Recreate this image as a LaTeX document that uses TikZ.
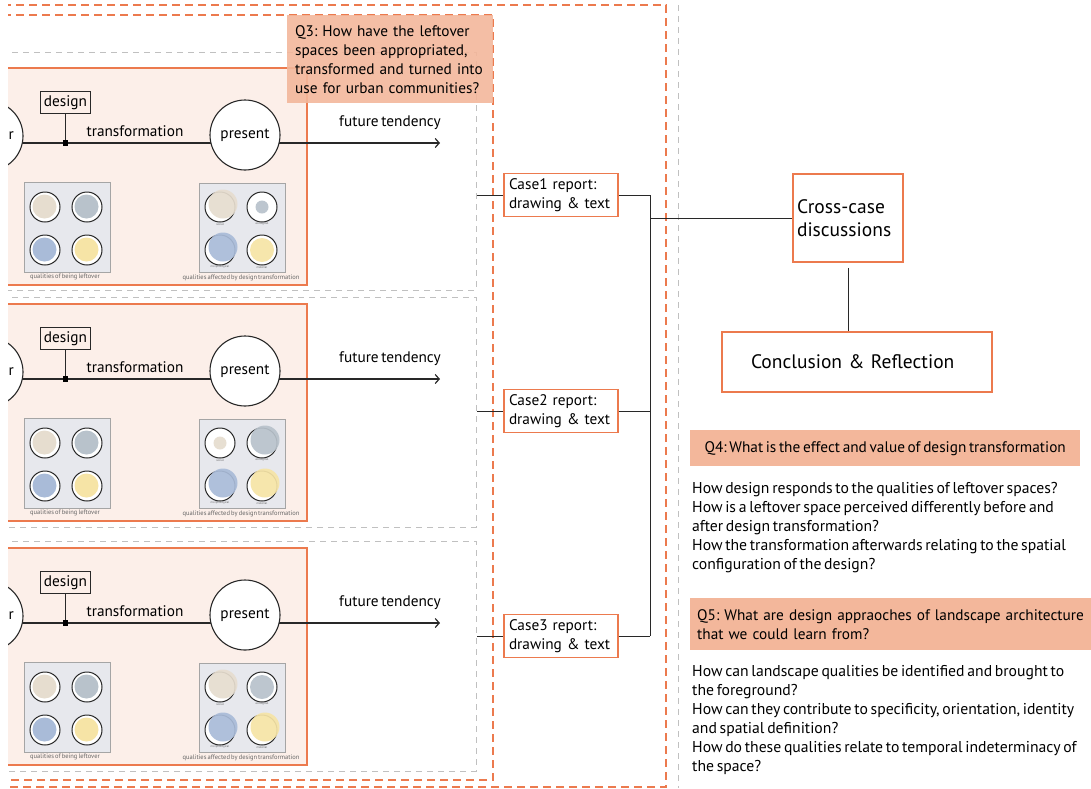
\documentclass[tikz,border=0pt]{standalone}
\usepackage{fontspec}
\setmainfont{PT Sans}[WordSpace=0.65]
\usetikzlibrary{positioning, calc, arrows.meta}

\definecolor{caseorange}{RGB}{236,122,78}
\definecolor{qsalmon}{RGB}{243,183,155}
\definecolor{panelpink}{RGB}{252,239,233}
\definecolor{dashgray}{RGB}{192,192,192}
\definecolor{boxgray}{RGB}{231,232,237}
\definecolor{boxline}{RGB}{165,165,165}
\definecolor{qbeige}{RGB}{230,221,207}
\definecolor{qslate}{RGB}{184,194,203}
\definecolor{qblue}{RGB}{169,187,216}
\definecolor{qyellow}{RGB}{246,228,166}
\definecolor{lineblack}{RGB}{40,40,40}

\newcommand{\bodyfont}{\fontsize{15.3}{19}\selectfont}
\newcommand{\questfont}{\fontsize{15.7}{19}\selectfont}
\newcommand{\bigfont}{\fontsize{19.5}{23}\selectfont}
\frenchspacing

\begin{document}
\begin{tikzpicture}[x=1pt, y=-1pt,
  orangedash/.style={draw=caseorange, line width=1.2pt, dash pattern=on 8pt off 5pt},
  graydash/.style={draw=dashgray, line width=1pt, dash pattern=on 6pt off 5pt},
  panel/.style={draw=caseorange, line width=1.4pt, fill=panelpink},
  qualbox/.style={draw=boxline, line width=0.8pt, fill=boxgray},
  timecircle/.style={circle, draw=lineblack, line width=1.1pt, fill=white, minimum size=70pt, inner sep=0pt, font=\bodyfont},
  designbox/.style={draw=lineblack, line width=1pt, inner xsep=3pt, inner ysep=4pt, font=\bodyfont},
  reportbox/.style={draw=caseorange, line width=1.3pt, fill=white, align=left, text width=104pt, inner xsep=5pt, inner ysep=5pt, font=\bodyfont},
  resultbox/.style={draw=caseorange, line width=1.5pt, align=left, font=\bigfont},
  qbox/.style={fill=qsalmon, align=left, font=\bodyfont, anchor=north west},
  qtext/.style={align=left, font=\questfont, anchor=north west, inner sep=0pt},
  tinylabel/.style={font=\fontsize{6.5}{7}\selectfont, text=black!60, inner sep=0pt},
  microlabel/.style={font=\fontsize{3}{3.5}\selectfont, text=black!60, inner sep=0pt},
  link/.style={draw=lineblack, line width=1pt}
]
\useasboundingbox (0,0) rectangle (1091,788);
\clip (8,0) rectangle (1091,788);

% Outer frames
\draw[orangedash] (-10,5) -- (666,5) -- (666,787) -- (-10,787);
\draw[orangedash] (-10,15) -- (493,15) -- (493,780) -- (-10,780);
\draw[graydash] (678,5) -- (678,788);

% Three cases
\foreach \n/\o/\gt/\gb/\ry/\lbl/\fills in {
  1/0/52/290/195/r/{220/207/qbeige/14.5, 262/207/qslate/6.5, 220/250/qblue/14.5, 262/250/qyellow/12},
  2/236/297/527/411/er/{220/207/qbeige/6.5, 262/207/qslate/14.5, 220/250/qblue/14.5, 262/250/qyellow/14.5},
  3/480/541/771/636/r/{220/207/qbeige/14.5, 262/207/qslate/12, 220/250/qblue/14.5, 262/250/qyellow/14.5}} {
  \draw[graydash] (-10,\gt) -- (476,\gt) -- (476,\gb) -- (-10,\gb);
  \begin{scope}[shift={(0,\o)}]
    \draw[panel] (-10,68) rectangle (307,285);
    % timeline
    \coordinate (tstart\n) at (-10,143);
    \coordinate (tend\n) at (440,143);
    \draw[link, line width=1.2pt, -{Straight Barb[length=4pt,width=9pt]}] (tstart\n) -- (tend\n);
    \node[timecircle] (past\n) at (-12,136) {};
    \node[font=\bodyfont, anchor=east, inner sep=0pt] (pastlbl\n) at (14,136) {\lbl};
    \node[timecircle] (present\n) at (245,135) {present};
    \node[designbox] (design\n) at (65.5,102.5) {design};
    \coordinate (mark\n) at (65.5,143);
    \draw[link] (design\n) -- (mark\n);
    \fill[black] ($(mark\n)+(-2.8,-2.8)$) rectangle ++(5.6,5.6);
    \node[font=\bodyfont] (trans\n) at (135,131) {transformation};
    \node[font=\bodyfont] (future\n) at (390,123) {future tendency};
    % qualities
    \draw[qualbox] (24,182) rectangle (110,272);
    \draw[qualbox] (199,183) rectangle (285,272);
    \foreach \qx/\qy/\qc in {45/207/qbeige, 87/207/qslate, 45/250/qblue, 87/250/qyellow} {
      \draw[lineblack, line width=1pt, fill=white] (\qx,\qy) circle (15);
      \fill[\qc] (\qx-0.5,\qy-0.5) circle (12);
    }
    \foreach \qx/\qy/\qc/\qr in \fills {
      \draw[lineblack, line width=1pt, fill=white] (\qx,\qy) circle (15);
      \pgfmathsetmacro\qo{\qr>13 ? 3 : 0}
      \fill[\qc, opacity=0.92] (\qx+\qo,\qy-\qo) circle (\qr);
    }
    \foreach \qx/\qy/\ql in {220/224/social, 262/224/ecological, 220/267/morphological, 262/267/material}
      \node[microlabel] (\ql\n) at (\qx,\qy) {\ql};
    \node[tinylabel] (leftlbl\n) at (65,277) {qualities of being leftover};
    \node[tinylabel] (afflbl\n) at (241,278) {qualities affected by design transformation};
  \end{scope}
  \node[reportbox] (case\n) at (561,\ry) {Case\n{} report:\\drawing \& text};
  \coordinate (caseedge\n) at (477,\ry);
  \draw[link] (caseedge\n) -- (case\n.west);
}

% Question 3
\node[qbox, fill opacity=0.9, text opacity=1, text width=190pt, inner xsep=8pt, minimum height=88pt] (q3) at (287,15)
  {Q3: How have the leftover\\spaces been appropriated,\\transformed and turned into\\use for urban communities?};

% Synthesis
\coordinate (bus) at (650,0);
\foreach \n in {1,2,3}
  \draw[link] (case\n.east) -- (case\n.east -| bus);
\draw[link] (case1.east -| bus) -- (case3.east -| bus);
\node[resultbox, text width=102pt, inner xsep=4pt, minimum height=88pt] (cross) at (848,218) {Cross-case\\discussions};
\draw[link] (cross.west -| bus) -- (cross.west);
\node[resultbox, text width=212pt, inner xsep=29pt, minimum height=60pt] (concl) at (857,362) {Conclusion \& Reflection};
\draw[link, shorten <=5pt] (cross.south) -- (cross.south |- concl.north);

% Questions 4 and 5
\node[qbox, minimum width=390pt, inner xsep=6pt, minimum height=36pt] (q4) at (690,430)
  {Q4: What is the effect and value of design transformation};
\node[qtext] (q4text) at (692,482)
  {How design responds to the qualities of leftover spaces?\\
   How is a leftover space perceived differently before and\\
   after design transformation?\\
   How the transformation afterwards relating to the spatial\\
   configuration of the design?};
\node[qbox, text width=387pt, inner xsep=7pt, minimum height=52pt] (q5) at (690,598)
  {Q5: What are design appraoches of landscape architecture\\that we could learn from?};
\node[qtext] (q5text) at (692,665)
  {How can landscape qualities be identified and brought to\\
   the foreground?\\
   How can they contribute to specificity, orientation, identity\\
   and spatial definition?\\
   How do these qualities relate to temporal indeterminacy of\\
   the space?};
\end{tikzpicture}
\end{document}
